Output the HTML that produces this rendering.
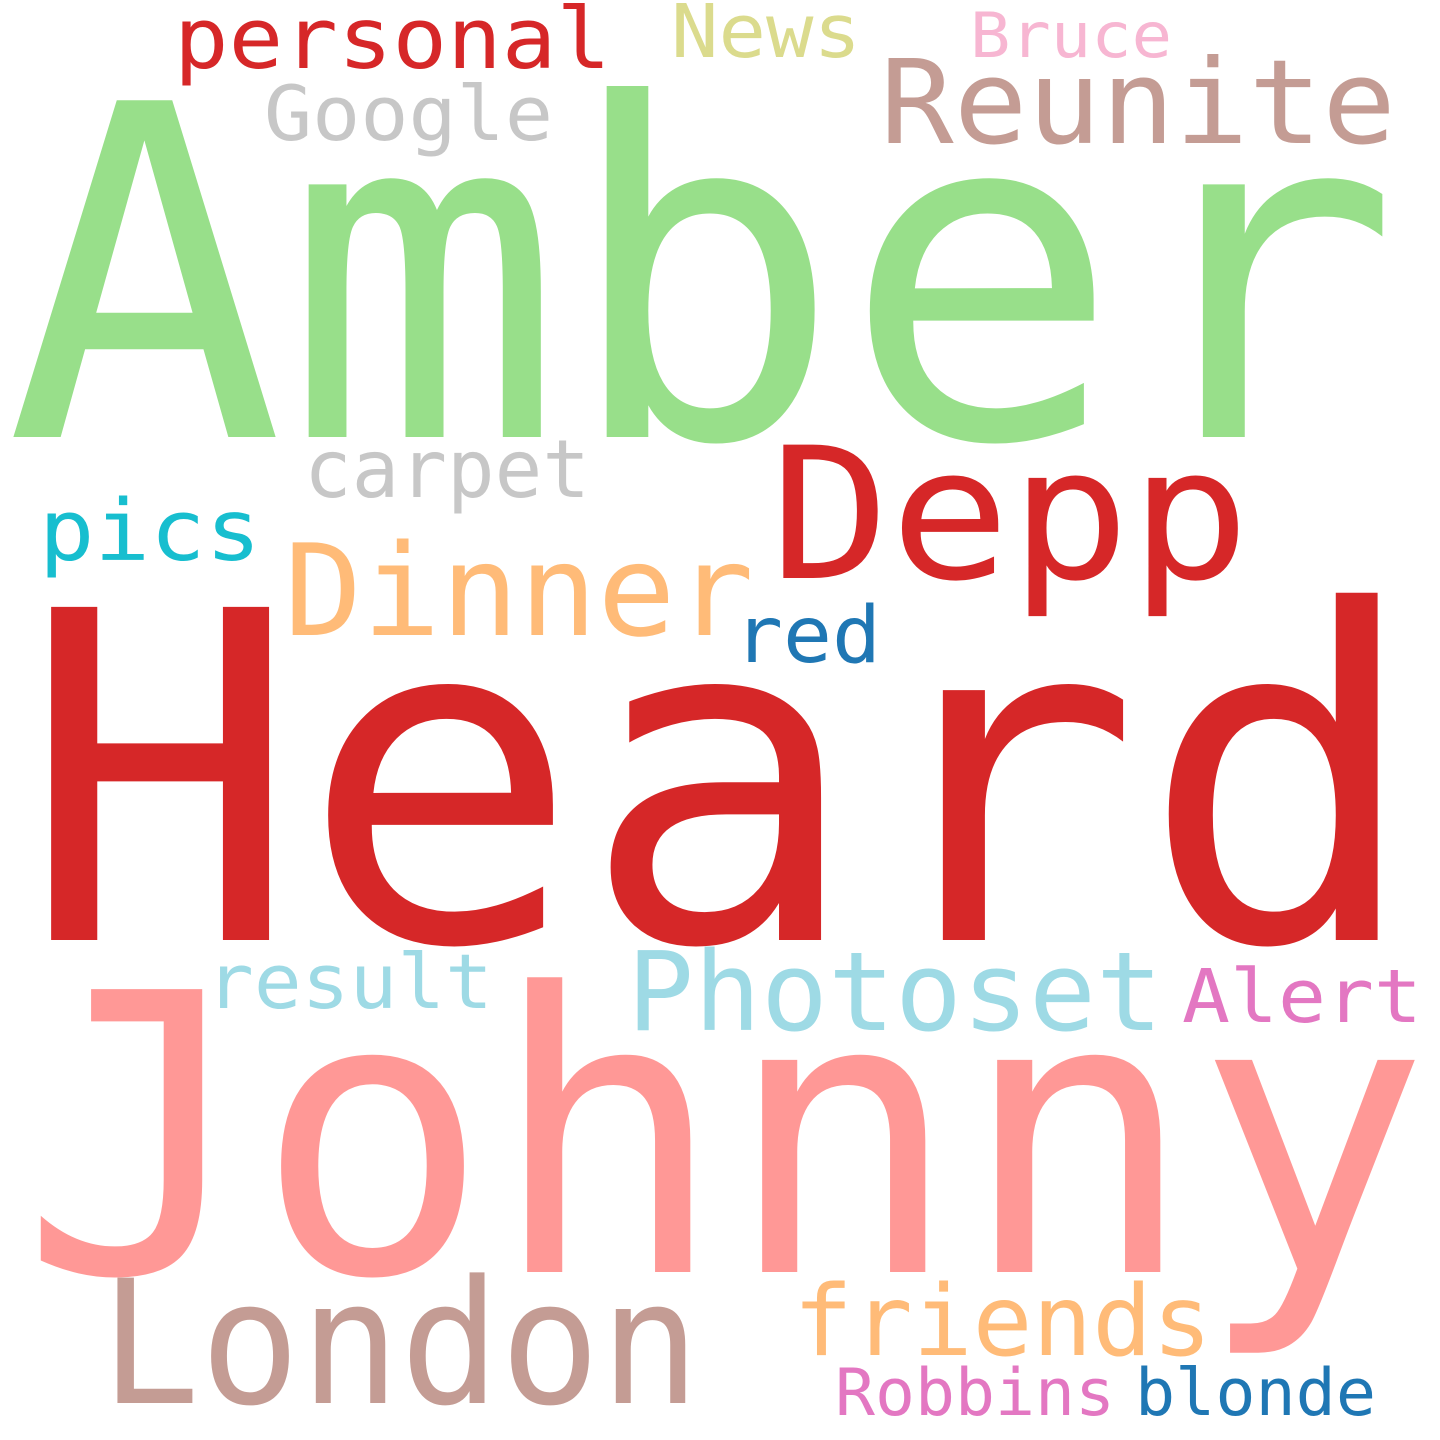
<!DOCTYPE html>
<html><head><meta charset="utf-8"><style>
html,body{margin:0;padding:0;background:#fff;}
svg{display:block;}
text{font-family:"DejaVu Sans Mono","Liberation Mono",monospace;}
</style></head><body>
<svg id="cloud" width="1440" height="1440" viewBox="0 0 1440 1440" xmlns="http://www.w3.org/2000/svg">
<rect width="1440" height="1440" fill="#fff"/>
</svg>
<script>
const words = ["Amber","Heard","Johnny","Depp","Dinner","Reunite","personal","News","Bruce","Google","carpet","pics","red","result","Photoset","Alert","London","friends","Robbins","blonde"];
const sizes = [462,457,388,183,127,117,85,74,62,76,80,85,78,76,110,74,172,98,65,65];
const colors = ["#98df8a","#d62728","#ff9896","#d62728","#ffbb78","#c49c94","#d62728","#dbdb8d","#f7b6d2","#c7c7c7","#c7c7c7","#17becf","#1f77b4","#9edae5","#9edae5","#e377c2","#c49c94","#ffbb78","#e377c2","#1f77b4"];
const xs = [5,20,20,770,284,880,174,671,970,264,304,39,734,206,627,1182,100,793,835,1135];
const ys = [437,940,1272,578,635,143,68,57,57,140,497,560,662,1008,1030,1022,1403,1355,1415,1415];
const ws = [1395,1401,1410,480,470,516,437,190,202,289,286,222,147,287,536,240,600,419,280,241];
const svg = document.getElementById('cloud');
words.forEach((w,i)=>{
  const t = document.createElementNS('http://www.w3.org/2000/svg','text');
  t.setAttribute('x', xs[i]);
  t.setAttribute('y', ys[i]);
  t.setAttribute('font-size', sizes[i]);
  t.setAttribute('fill', colors[i]);
  t.setAttribute('textLength', ws[i]);
  t.setAttribute('lengthAdjust', 'spacingAndGlyphs');
  
  
  t.textContent = w;
  svg.appendChild(t);
});
</script>
</body></html>
